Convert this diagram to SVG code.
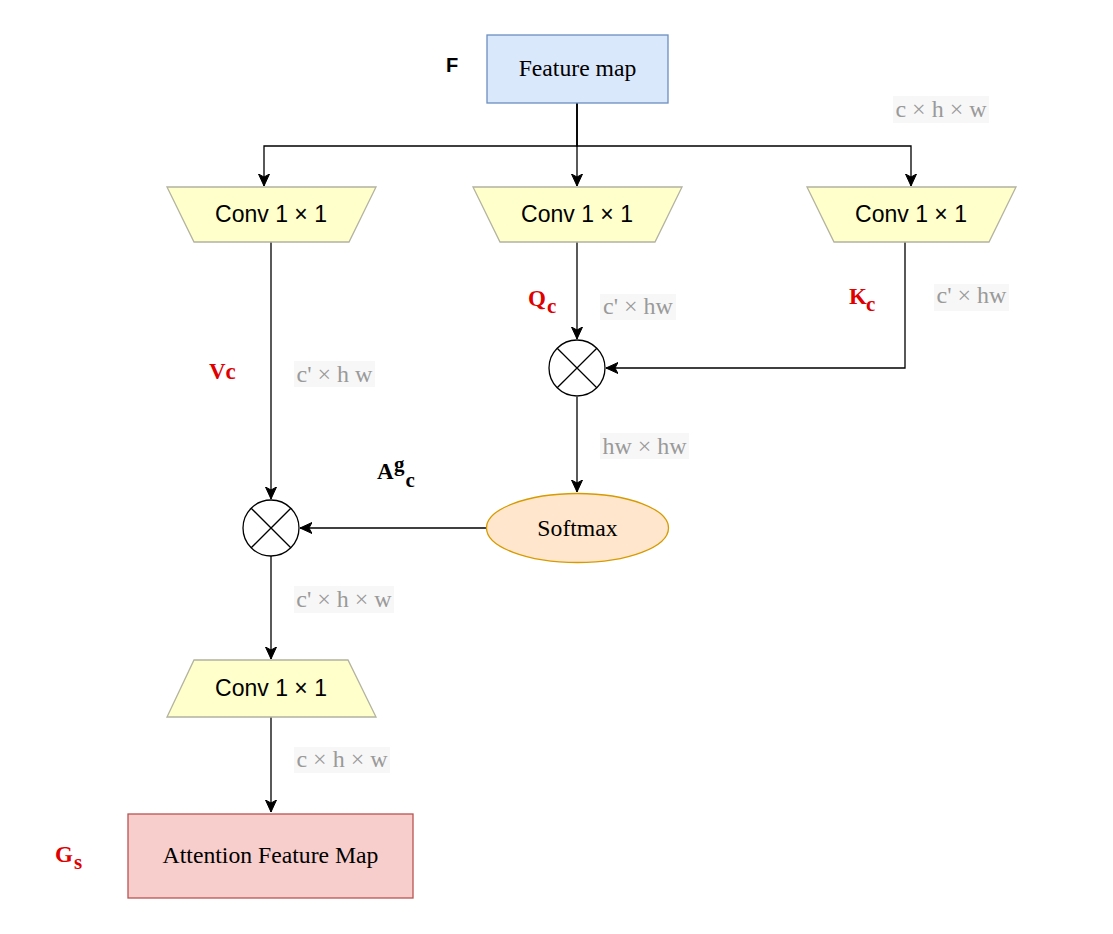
<svg xmlns="http://www.w3.org/2000/svg" width="1113" height="934" viewBox="0 0 1113 934">
<style>
.conv{fill:#ffffcc;stroke:#b3b3a0;stroke-width:1.3}
.convt{font-family:"Liberation Sans",Arial,sans-serif;font-size:23px;fill:#000;text-anchor:middle}
.node{font-family:"Liberation Serif","Times New Roman",serif;font-size:23.7px;fill:#000;text-anchor:middle}
.lbg{fill:#f7f7f7}
.lbl{font-family:"Liberation Serif","Times New Roman",serif;font-size:24px;fill:#9a9a9a;text-anchor:middle}
.red{font-family:"Liberation Serif","Times New Roman",serif;font-size:23px;font-weight:bold;fill:#e00000}
.blk{font-family:"Liberation Serif","Times New Roman",serif;font-size:23px;font-weight:bold;fill:#000}
.edge{fill:none;stroke:#000;stroke-width:1.3;marker-end:url(#arr)}
.mul{fill:#fff;stroke:#000;stroke-width:1.3}
</style>
<defs>
<marker id="arr" markerUnits="userSpaceOnUse" markerWidth="14" markerHeight="12" viewBox="0 0 14 12" refX="12" refY="6" orient="auto">
<path d="M0,0.5 L12,6 L0,11.5 L3,6 z" fill="#000" stroke="#000" stroke-width="1"/>
</marker>
</defs>
<rect width="1113" height="934" fill="#fff"/>

<g id="connectors">
<path class="edge" d="M577,103 V186"/>
<path class="edge" d="M577,103 V146 H264 V186"/>
<path class="edge" d="M577,103 V146 H911 V186"/>
<path class="edge" d="M271,242 V499"/>
<path class="edge" d="M577,242 V339"/>
<path class="edge" d="M905,242 V368 H606"/>
<path class="edge" d="M577,397 V492"/>
<path class="edge" d="M487,528 H300"/>
<path class="edge" d="M271,556 V659"/>
<path class="edge" d="M271,717 V812"/>
</g>

<g id="feature-map">
<rect x="487" y="35" width="181" height="68" fill="#dae8fc" stroke="#6c8ebf" stroke-width="1.3"/>
<text x="577.5" y="76" class="node">Feature map</text>
</g>
<g id="label-F">
<text x="446" y="72" font-family="Liberation Sans,Arial,sans-serif" font-size="20" font-weight="bold">F</text>
</g>

<g id="conv-v">
<polygon class="conv" points="167,187 376,187 349,242 194,242"/>
<text x="271" y="222" class="convt">Conv 1 × 1</text>
</g>
<g id="conv-q">
<polygon class="conv" points="473,187 682,187 655,242 500,242"/>
<text x="577" y="222" class="convt">Conv 1 × 1</text>
</g>
<g id="conv-k">
<polygon class="conv" points="807,187 1016,187 989,242 834,242"/>
<text x="911" y="222" class="convt">Conv 1 × 1</text>
</g>

<g id="mul-qk">
<circle class="mul" cx="577" cy="368" r="28"/>
<path d="M557.2,348.2 L596.8,387.8 M596.8,348.2 L557.2,387.8" stroke="#000" stroke-width="1.3"/>
</g>
<g id="mul-av">
<circle class="mul" cx="271" cy="528" r="28"/>
<path d="M251.2,508.2 L290.8,547.8 M290.8,508.2 L251.2,547.8" stroke="#000" stroke-width="1.3"/>
</g>

<g id="softmax">
<ellipse cx="577.5" cy="528" rx="91" ry="34.5" fill="#ffe6cc" stroke="#d79b00" stroke-width="1.3"/>
<text x="577.5" y="535.5" class="node">Softmax</text>
</g>

<g id="conv-out">
<polygon class="conv" points="194,660 348,660 376,717 167,717"/>
<text x="271" y="696" class="convt">Conv 1 × 1</text>
</g>

<g id="attention-map">
<rect x="128" y="814" width="285" height="84" fill="#f8cecc" stroke="#b85450" stroke-width="1.3"/>
<text x="270.5" y="863" class="node">Attention Feature Map</text>
</g>

<g id="dim-labels">
<rect class="lbg" x="893" y="96" width="96" height="27"/>
<text class="lbl" x="941" y="117">c × h × w</text>
<rect class="lbg" x="934" y="284" width="75" height="27"/>
<text class="lbl" x="971.5" y="303">c' × hw</text>
<rect class="lbg" x="600" y="294" width="76" height="26"/>
<text class="lbl" x="638" y="314">c' × hw</text>
<rect class="lbg" x="600" y="433" width="89" height="26"/>
<text class="lbl" x="644.5" y="454">hw × hw</text>
<rect class="lbg" x="294" y="361" width="81" height="26"/>
<text class="lbl" x="334.5" y="382">c' × h w</text>
<rect class="lbg" x="294" y="586" width="100" height="27"/>
<text class="lbl" x="344" y="607">c' × h × w</text>
<rect class="lbg" x="294" y="747" width="96" height="26"/>
<text class="lbl" x="342" y="767">c × h × w</text>
</g>

<g id="name-labels">
<text class="red" x="209" y="379">Vc</text>
<text class="red" x="528" y="306">Q<tspan x="547" y="313" font-size="21">c</tspan></text>
<text class="red" x="849" y="304">K<tspan x="866" y="311" font-size="21">c</tspan></text>
<text class="red" x="55" y="862">G<tspan x="74" y="869" font-size="21">s</tspan></text>
<text class="blk" x="377" y="479">A<tspan x="394" y="471" font-size="21">g</tspan><tspan x="405.5" y="487" font-size="21">c</tspan></text>
</g>
</svg>
